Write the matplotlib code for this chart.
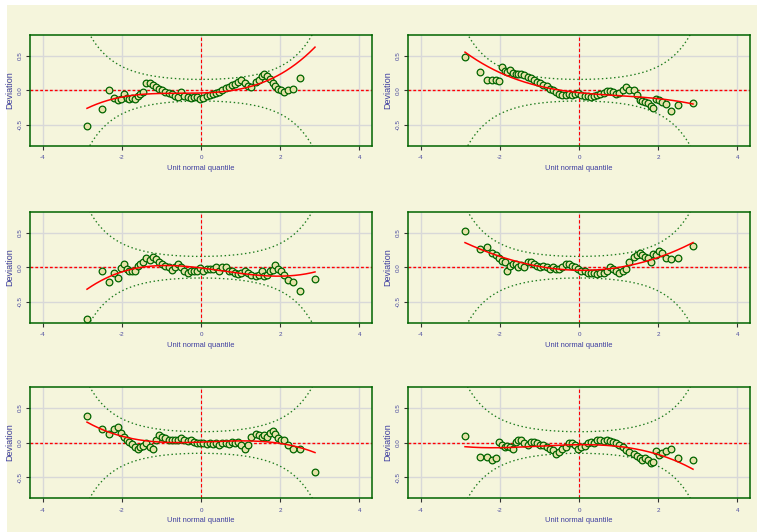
import numpy as np
import matplotlib
matplotlib.use("Agg")
import matplotlib.pyplot as plt
import matplotlib.patches as patches
from math import erf

# theoretical unit normal quantiles (same for every panel, n ~ 250)
zq = [-2.88, -2.51, -2.33, -2.20, -2.10, -2.01, -1.94, -1.88, -1.81, -1.74,
      -1.67, -1.60, -1.53, -1.46, -1.38,
      -1.30, -1.22, -1.14, -1.06, -0.98, -0.90, -0.82, -0.74, -0.66, -0.58,
      -0.50, -0.42, -0.34, -0.26, -0.18, -0.10, -0.02, 0.06, 0.14, 0.22,
      0.30, 0.38, 0.46, 0.54, 0.62, 0.70, 0.78, 0.86, 0.94, 1.02,
      1.10, 1.18, 1.26,
      1.38, 1.46, 1.53, 1.60, 1.67, 1.74, 1.81, 1.88, 1.94, 2.01,
      2.10, 2.20, 2.33, 2.51, 2.88]

dev1 = [-0.52, -0.27, 0.00, -0.115, -0.145, -0.12, -0.06, -0.11, -0.13, -0.11,
        -0.13, -0.08, -0.06, -0.02, 0.10,
        0.10, 0.08, 0.05, 0.02, 0.00, -0.02, -0.04, -0.06, -0.09, -0.10,
        -0.02, -0.08, -0.10, -0.11, -0.10, -0.10, -0.12, -0.11, -0.09, -0.07,
        -0.06, -0.04, -0.02, 0.00, 0.03, 0.05, 0.07, 0.09, 0.12, 0.14,
        0.10, 0.06, 0.05,
        0.12, 0.15, 0.20, 0.24, 0.20, 0.16, 0.11, 0.06, 0.02, 0.00,
        -0.03, 0.00, 0.02, 0.18, 1.10]

dev2 = [0.48, 0.26, 0.14, 0.14, 0.14, 0.13, 0.33, 0.28, 0.26, 0.29,
        0.25, 0.24, 0.23, 0.24, 0.22,
        0.19, 0.17, 0.14, 0.12, 0.10, 0.07, 0.06, 0.02, 0.00, -0.02,
        -0.05, -0.07, -0.07, -0.06, -0.07, -0.06, -0.04, -0.07, -0.09, -0.09,
        -0.10, -0.09, -0.07, -0.06, -0.04, -0.01, -0.01, -0.02, -0.05, -0.04,
        0.00, 0.04, 0.01,
        0.01, -0.07, -0.14, -0.15, -0.17, -0.19, -0.23, -0.25, -0.13, -0.14,
        -0.17, -0.20, -0.30, -0.21, -0.18]

dev3 = [-0.74, -0.05, -0.21, -0.09, -0.15, -0.005, 0.05, -0.03, -0.05, -0.05,
        -0.06, 0.02, 0.04, 0.07, 0.13,
        0.10, 0.15, 0.12, 0.08, 0.04, 0.02, 0.00, -0.04, 0.00, 0.04,
        0.00, -0.05, -0.08, -0.06, -0.05, -0.05, -0.01, -0.06, -0.03, -0.02,
        -0.03, 0.00, -0.05, 0.00, 0.00, -0.05, -0.06, -0.08, -0.10, -0.09,
        -0.06, -0.08, -0.11,
        -0.13, -0.11, -0.06, -0.13, -0.11, -0.05, -0.04, 0.03, -0.03, -0.05,
        -0.11, -0.19, -0.21, -0.34, -0.17]

dev4 = [0.52, 0.26, 0.29, 0.20, 0.18, 0.13, 0.09, 0.07, -0.05, 0.02,
        0.04, 0.05, 0.00, 0.03, 0.00,
        0.07, 0.08, 0.04, 0.02, 0.00, 0.02, 0.00, -0.03, 0.00, -0.03,
        -0.03, 0.00, 0.04, 0.05, 0.02, 0.00, -0.03, -0.05, -0.06, -0.09,
        -0.08, -0.09, -0.10, -0.08, -0.09, -0.05, 0.00, -0.03, -0.05, -0.08,
        -0.05, -0.03, 0.07,
        0.14, 0.18, 0.20, 0.17, 0.14, 0.13, 0.07, 0.19, 0.17, 0.23,
        0.20, 0.13, 0.12, 0.13, 0.31]

dev5 = [0.38, 0.20, 0.12, 0.19, 0.22, 0.13, 0.08, 0.04, 0.01, -0.02,
        -0.06, -0.09, -0.07, -0.05, -0.01,
        -0.06, -0.10, 0.03, 0.11, 0.08, 0.06, 0.03, 0.04, 0.03, 0.04,
        0.06, 0.03, 0.02, 0.03, 0.01, 0.00, -0.01, 0.00, -0.02, -0.01,
        -0.02, 0.00, -0.04, 0.00, -0.01, -0.02, 0.01, -0.01, 0.01, -0.04,
        -0.09, -0.04, 0.08,
        0.12, 0.11, 0.08, 0.11, 0.08, 0.14, 0.17, 0.12, 0.06, 0.03,
        0.03, -0.04, -0.10, -0.10, -0.42]

dev6 = [0.09, -0.21, -0.21, -0.25, -0.22, 0.01, -0.04, -0.06, -0.05, -0.06,
        -0.09, 0.01, 0.03, 0.03, 0.00,
        -0.04, 0.01, 0.01, -0.01, -0.04, -0.04, -0.06, -0.09, -0.11, -0.16,
        -0.13, -0.09, -0.06, -0.01, -0.01, -0.04, -0.09, -0.06, -0.05, -0.01,
        0.01, 0.00, 0.03, 0.04, 0.02, 0.03, 0.02, 0.01, -0.01, -0.04,
        -0.06, -0.11, -0.13,
        -0.17, -0.20, -0.22, -0.25, -0.23, -0.25, -0.29, -0.28, -0.12, -0.18,
        -0.15, -0.12, -0.09, -0.22, -0.25]

panels = [dev1, dev2, dev3, dev4, dev5, dev6]
n_obs = 250

bg = "#F5F5DC"
plt.rcParams['font.family'] = ['Liberation Sans', 'DejaVu Sans']

fig = plt.figure(figsize=(7.57, 5.32), dpi=100, facecolor="white")
fig.patches.append(patches.Rectangle((7/757, 0), 1, 1 - 5/532, transform=fig.transFigure,
                                     facecolor=bg, edgecolor="none", zorder=-10))

lefts = [30/757, 408/757]
bottoms = [1 - 145.7/532, 1 - 322.7/532, 1 - 498/532]
w = 342/757
h = 111/532

def dnorm(v):
    return np.exp(-v**2/2)/np.sqrt(2*np.pi)

# 95% band of the worm plot
zz = np.linspace(-4.5, 4.5, 400)
p = np.array([0.5*(1 + erf(v/np.sqrt(2))) for v in zz])
band = 1.959964*np.sqrt(p*(1-p)/n_obs)/dnorm(zz)

x = np.array(zq)
# each marker stands for this many of the original residuals
count = np.maximum(np.gradient(x)*n_obs*dnorm(x), 1.0)

for k, dev in enumerate(panels):
    r, c = divmod(k, 2)
    ax = fig.add_axes([lefts[c], bottoms[r], w, h])
    ax.set_facecolor(bg)
    ax.set_xlim(-4.32, 4.32)
    ax.set_ylim(-0.8, 0.8)
    ax.set_xticks([-4, -2, 0, 2, 4])
    ax.set_yticks([-0.5, 0.0, 0.5])
    ax.set_xticklabels(["-4", "-2", "0", "2", "4"])
    ax.set_yticklabels(["-0.5", "0.0", "0.5"], rotation=90, va="center")
    ax.tick_params(labelsize=4.5, labelcolor="#4B4BA0", color="#333333",
                   length=3, width=0.8)
    ax.tick_params(axis="x", pad=4)
    ax.tick_params(axis="y", pad=2.5)
    ax.grid(True, color="#D8D8D8", lw=1.0)
    ax.set_axisbelow(True)
    for s in ax.spines.values():
        s.set_color("#006400")
        s.set_linewidth(1.1)

    ax.plot(zz, band, color="#1E7B1E", lw=0.95, ls=(0, (1.1, 2.0)))
    ax.plot(zz, -band, color="#1E7B1E", lw=0.95, ls=(0, (1.1, 2.0)))
    ax.axhline(0, color="red", lw=1.0, ls=(0, (2, 1.5)))
    ax.axvline(0, color="red", lw=0.8, ls=(0, (3, 2)))

    y = np.array(dev)
    ax.plot(x, y, "o", ms=4.8, mfc="#E6E2A8", mec="#006400", mew=0.9)
    coef = np.polyfit(x, y, 3, w=np.sqrt(count))
    xf = np.linspace(x.min(), x.max(), 200)
    ax.plot(xf, np.polyval(coef, xf), color="red", lw=1.1)

    ax.set_xlabel("Unit normal quantile", fontsize=5.4, color="#3C3CA0", labelpad=3)
    ax.set_ylabel("Deviation", fontsize=6.5, color="#3C3CA0", labelpad=2)

fig.savefig("out.png", dpi=100, facecolor="white")
